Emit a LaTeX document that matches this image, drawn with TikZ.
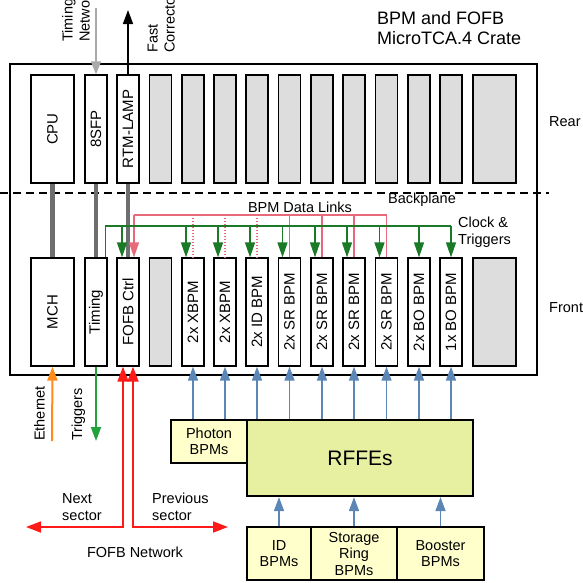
\documentclass[tikz,border=0pt]{standalone}
\usepackage{fontspec}
\setmainfont{Liberation Sans}
\usetikzlibrary{arrows.meta,calc}
\definecolor{slotgray}{HTML}{DDDDDD}
\definecolor{bargray}{HTML}{6E6E6E}
\definecolor{tngray}{HTML}{AAAAAA}
\definecolor{clkgreen}{HTML}{1A7A28}
\definecolor{trggreen}{HTML}{22A33A}
\definecolor{linkpink}{HTML}{E8697A}
\definecolor{fofbred}{HTML}{FF1A1A}
\definecolor{ethorange}{HTML}{FF8C1A}
\definecolor{rfblue}{HTML}{5B86B5}
\definecolor{photonfill}{HTML}{FFFFCC}
\definecolor{rffefill}{HTML}{E6F0A0}
\begin{document}
\begin{tikzpicture}[x=1pt,y=-1pt,
  slot/.style={draw, line width=1.3pt, minimum width=22pt, minimum height=108pt, inner sep=0pt, fill=white},
  gslot/.style={slot, fill=slotgray},
  wideslot/.style={minimum width=43pt},
  lbl/.style={font=\fontsize{14.5}{17}\selectfont, inner sep=0pt},
  vlbl/.style={font=\fontsize{15}{17}\selectfont, inner sep=0pt, rotate=90},
  bar/.style={draw=bargray, line width=4.5pt},
  clk/.style={draw=clkgreen, line width=1.4pt},
  clkarr/.style={clk, -{Triangle[length=15pt,width=10pt]}},
  link/.style={draw=linkpink, line width=1.3pt},
  linkdot/.style={draw=linkpink, line width=1.3pt, dash pattern=on 1.4pt off 1.6pt},
  fofbnet/.style={draw=fofbred, line width=1.8pt, {Triangle[length=15pt,width=11pt]}-{Triangle[length=15pt,width=11pt]}},
  bpmarr/.style={draw=rfblue, line width=1.6pt, -{Triangle[length=14pt,width=10pt]}},
  bigbox/.style={draw, line width=2.2pt, inner sep=0pt, align=center, font=\fontsize{14.5}{16.5}\selectfont}
]
\useasboundingbox (0,0) rectangle (583,582);

% crate
\node[draw, line width=2pt, minimum width=527pt, minimum height=311pt, inner sep=0pt] (crate) at (273.5,219.5) {};

% rear slots
\node[slot, wideslot] (cpu) at (52.5,129) {};
\node[slot] (sfp) at (96,129) {};
\node[slot] (rtm) at (128,129) {};
\foreach \x [count=\i] in {160.5,193,225,257,289.5,322,354,386.5,419,451}
  \node[gslot] (r\i) at (\x,129) {};
\node[gslot, wideslot] (rbig) at (494.5,129) {};
\node[vlbl] (cpul) at (cpu) {CPU};
\node[vlbl] (sfpl) at (sfp) {8SFP};
\node[vlbl] (rtml) at (rtm) {RTM-LAMP};

% front slots
\node[slot, wideslot] (mch) at (52.5,312) {};
\node[slot] (timing) at (96,312) {};
\node[slot] (fofb) at (128,312) {};
\node[gslot] (fg) at (160.5,312) {};
\node[slot] (xb1) at (193,312) {};
\node[slot] (xb2) at (225,312) {};
\node[slot] (idb) at (257,312) {};
\node[slot] (sr1) at (289.5,312) {};
\node[slot] (sr2) at (322,312) {};
\node[slot] (sr3) at (354,312) {};
\node[slot] (sr4) at (386.5,312) {};
\node[slot] (bo2) at (419,312) {};
\node[slot] (bo1) at (451,312) {};
\node[gslot, wideslot] (fbig) at (494.5,312) {};
\node[vlbl] (mchl) at (mch) {MCH};
\node[vlbl] (timl) at (timing) {Timing};
\node[vlbl] (fofbl) at (fofb) {FOFB Ctrl};
\node[vlbl] (xb1l) at (xb1) {2x XBPM};
\node[vlbl] (xb2l) at (xb2) {2x XBPM};
\node[vlbl] (idbl) at (idb) {2x ID BPM};
\node[vlbl] (sr1l) at (sr1) {2x SR BPM};
\node[vlbl] (sr2l) at (sr2) {2x SR BPM};
\node[vlbl] (sr3l) at (sr3) {2x SR BPM};
\node[vlbl] (sr4l) at (sr4) {2x SR BPM};
\node[vlbl] (bo2l) at (bo2) {2x BO BPM};
\node[vlbl] (bo1l) at (bo1) {1x BO BPM};

% backplane
\draw[line width=2pt, dash pattern=on 8pt off 5pt] (0,192.7) -- (549,192.7);

% rear-front connections
\draw[bar] (cpu.south) -- (mch.north);
\draw[bar] (sfp.south) -- (timing.north);
\draw[bar] (rtm.south) -- (fofb.north);

% timing network / fast correctors
\coordinate (tnet) at (96,8);
\draw[draw=tngray, line width=2pt, -{Triangle[length=13pt,width=10pt]}] (tnet) -- (sfp.north);
\coordinate (fcor) at (128,10);
\draw[line width=1.6pt, -{Triangle[length=14pt,width=10pt]}] (rtm.north) -- (fcor);
\node[lbl, rotate=90, anchor=south west, align=left] (tnl) at (90,42) {Timing\\Network};
\node[lbl, rotate=90, anchor=south west, align=left] (fcl) at (175,53) {Fast\\Correctors};

% BPM data links (pink)
\coordinate (pk) at (134,215);
\coordinate (pkR) at (386.5,215);
\draw[link] (pk) -- (pkR);
\draw[link, -{Triangle[length=15pt,width=10pt]}] (pk) -- ([xshift=6pt]fofb.north);
\foreach \n in {sr1,sr2,sr3,sr4}
  \draw[link] (\n.north |- pk) -- (\n.north);
\foreach \n in {xb1,xb2,idb}
  \draw[linkdot] (\n.north |- pk) -- (\n.north);

% clock & triggers (green)
\coordinate (clkS) at ([xshift=-2pt]timing.north east);
\coordinate (clkR) at (451,226);
\draw[clk] (clkS) |- (clkR);
\foreach \n/\s in {fofb/-6,xb1/-7,xb2/-7,idb/-7,sr1/-7,sr2/-7,sr3/-7,sr4/-7,bo2/0,bo1/0}{
  \coordinate (gd) at ([xshift=\s pt]\n.north);
  \draw[clkarr] (gd |- clkR) -- (gd);
}

% labels inside crate / around
\node[lbl, anchor=center] (bdl) at (300,207) {BPM Data Links};
\node[lbl, anchor=center] (bpl) at (422,200) {Backplane};
\node[lbl, anchor=west, align=left] (ctl) at (458,232) {Clock \&\\Triggers};
\node[lbl, anchor=west] (rear) at (549,122) {Rear};
\node[lbl, anchor=west] (front) at (549,308) {Front};
\node[anchor=west, align=left, inner sep=0pt, font=\fontsize{18}{20}\selectfont] (title) at (377,28) {BPM and FOFB\\MicroTCA.4 Crate};

% ethernet, triggers out
\coordinate (eth) at (52,441);
\draw[draw=ethorange, line width=2pt, -{Triangle[length=14pt,width=10pt]}] (eth) -- (mch.south);
\coordinate (trg) at (96,441);
\draw[draw=trggreen, line width=2pt, -{Triangle[length=14pt,width=10pt]}] (timing.south) -- (trg);
\node[lbl, rotate=90, anchor=base west] (ethl) at (44.5,441) {Ethernet};
\node[lbl, rotate=90, anchor=base west] (trgl) at (82,441) {Triggers};

% FOFB network (red)
\coordinate (nxt) at (26,527);
\coordinate (prv) at (228,527);
\draw[fofbnet] ([xshift=-5pt]fofb.south) |- (nxt);
\draw[fofbnet] ([xshift=5pt]fofb.south) |- (prv);
\node[lbl, anchor=west, align=left] (nxtl) at (62,507) {Next\\sector};
\node[lbl, anchor=west, align=left] (prvl) at (152,507) {Previous\\sector};
\node[lbl] (fnl) at (135,552) {FOFB Network};

% RFFEs and BPM sources
\node[bigbox, fill=rffefill, minimum width=226pt, minimum height=76pt, font=\fontsize{21}{24}\selectfont] (rffe) at (360,458) {RFFEs};
\node[bigbox, fill=photonfill, minimum width=76pt, minimum height=43pt] (photon) at (209,441.5) {Photon\\BPMs};
\node[bigbox, fill=photonfill, minimum width=64pt, minimum height=53pt] (idbox) at (279,553.5) {ID\\BPMs};
\node[bigbox, fill=photonfill, minimum width=86pt, minimum height=53pt] (srbox) at (354,553.5) {Storage\\Ring\\BPMs};
\node[bigbox, fill=photonfill, minimum width=87pt, minimum height=53pt] (bobox) at (440.5,553.5) {Booster\\BPMs};

\foreach \n in {xb1,xb2}
  \draw[bpmarr] (\n.south |- photon.north) -- (\n.south);
\foreach \n in {idb,sr1,sr2,sr3,sr4,bo2,bo1}
  \draw[bpmarr] (\n.south |- rffe.north) -- (\n.south);
\foreach \n in {idbox,srbox,bobox}
  \draw[bpmarr] (\n.north) -- (\n.north |- rffe.south);
\end{tikzpicture}
\end{document}
